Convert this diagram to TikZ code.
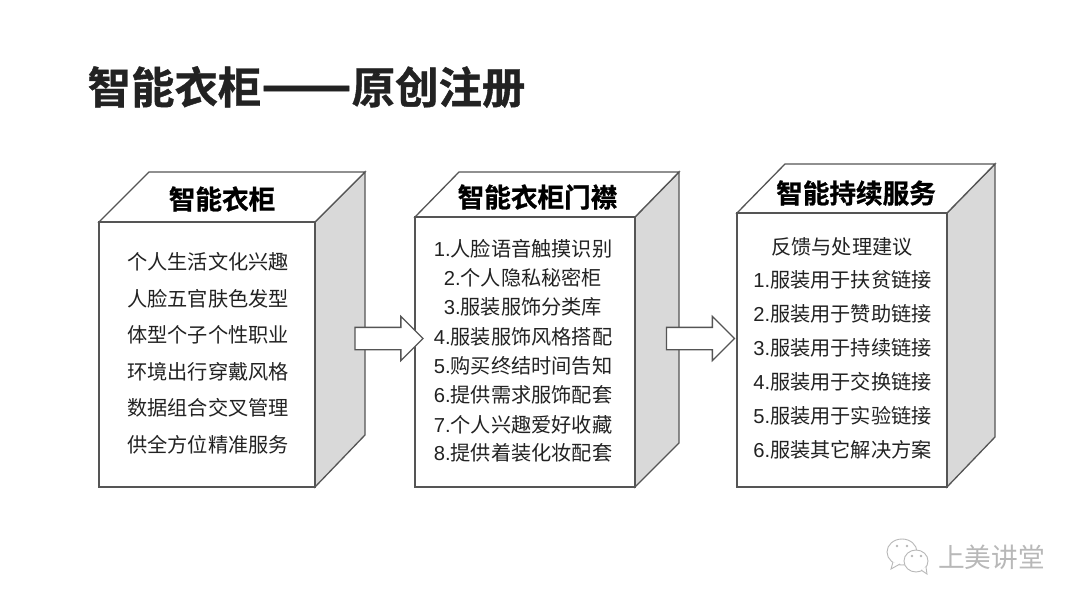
\documentclass[tikz,border=0pt]{standalone}
\usepackage{fontspec}
\usetikzlibrary{shapes.arrows}
\setmainfont{Noto Sans CJK SC}
\newfontfamily\lat{Liberation Sans}
\newfontfamily\heavy[UprightFeatures={FakeBold=0.9},BoldFont={Noto Sans CJK SC Bold},BoldFeatures={FakeBold=0.9}]{Noto Sans CJK SC}
\definecolor{edgec}{HTML}{555555}
\definecolor{sidec}{HTML}{D9D9D9}
\definecolor{inkc}{HTML}{222222}
\definecolor{wmc}{HTML}{B8B8B8}
\newcommand{\fs}[1]{\fontsize{#1pt}{#1pt}\selectfont}
\newcommand{\dg}[1]{{\lat #1}}
\tikzset{
  x=1pt,y=-1pt,
  face/.style={draw=edgec,line width=1.3pt,line join=miter},
  front/.style={face,fill=white,rectangle,inner sep=0pt,outer sep=0pt,anchor=north west},
  boxtitle/.style={inner sep=0pt,text=black,font=\fs{26.6}\heavy\bfseries},
  line/.style={inner sep=0pt,text=inkc,font=\fs{20.2},yshift=-0.7pt},
  blockarrow/.style={face,fill=white,shape=single arrow,inner xsep=0pt,inner ysep=10.5pt,outer sep=0pt,
    single arrow head extend=11pt,single arrow tip angle=90,shape border rotate=0,
    minimum height=68pt,anchor=tip},
  wm/.style={draw=wmc,line width=0.9pt,fill=white},
}
\begin{document}
\begin{tikzpicture}
\useasboundingbox (0,0) rectangle (1080,605);
\fill[white] (0,0) rectangle (1080,605);
\node[inner sep=0pt,text=inkc,font=\fs{43.4}\heavy\bfseries] (title) at (306.5,87) {智能衣柜\raisebox{-0.6pt}{\scalebox{1.225}[1.25]{——}}原创注册};

% box 1
\draw[face,fill=sidec] (315,222) -- (365,172) -- (365,435) -- (315,487) -- cycle;
\draw[face,fill=white] (99,222) -- (149,172) -- (365,172) -- (315,222) -- cycle;
\node[front,minimum width=216pt,minimum height=265pt] (f1) at (99,222) {};
\node[boxtitle] (t1) at (222,199) {智能衣柜};
\foreach \i/\y/\s in {1/261/个人生活文化兴趣,2/298/人脸五官肤色发型,3/334/体型个子个性职业,4/371/环境出行穿戴风格,5/407/数据组合交叉管理,6/444/供全方位精准服务}
  \node[line] (a\i) at (208,\y) {\s};

% box 2
\draw[face,fill=sidec] (635,217) -- (679,172) -- (679,443) -- (635,487) -- cycle;
\draw[face,fill=white] (415,217) -- (459,172) -- (679,172) -- (635,217) -- cycle;
\node[front,minimum width=220pt,minimum height=270pt] (f2) at (415,217) {};
\node[boxtitle] (t2) at (537.5,197) {智能衣柜门襟};
\foreach \i/\y/\s in {1/248/人脸语音触摸识别,4/336/服装服饰风格搭配,5/365/购买终结时间告知,6/394/提供需求服饰配套,7/424/个人兴趣爱好收藏,8/452/提供着装化妆配套}
  \node[line] (b\i) at (523,\y) {\dg{\i.}\s};
\node[line] (b2) at (523,277) {\dg{2.}个人隐私秘密柜};
\node[line] (b3) at (523,306) {\dg{3.}服装服饰分类库};

% box 3
\draw[face,fill=sidec] (947,213) -- (995,164) -- (995,437) -- (947,487) -- cycle;
\draw[face,fill=white] (737,213) -- (785,164) -- (995,164) -- (947,213) -- cycle;
\node[front,minimum width=210pt,minimum height=274pt] (f3) at (737,213) {};
\node[boxtitle] (t3) at (856,193) {智能持续服务};
\node[line] (c0) at (842,246) {反馈与处理建议};
\node[line] (c1) at (842.5,279) {\dg{1.}服装用于扶贫链接};
\node[line] (c2) at (842.5,313) {\dg{2.}服装用于赞助链接};
\node[line] (c3) at (842.5,347) {\dg{3.}服装用于持续链接};
\node[line] (c4) at (842.5,381) {\dg{4.}服装用于交换链接};
\node[line] (c5) at (842.5,415) {\dg{5.}服装用于实验链接};
\node[line] (c6) at (842.5,449) {\dg{6.}服装其它解决方案};

% arrows
\node[blockarrow] (ar1) at (423,338.5) {};
\node[blockarrow] (ar2) at (734.5,338.5) {};

% watermark
\draw[wm] (902,552) ellipse [x radius=15,y radius=13];
\draw[wm] (893,562) -- (891,569) -- (900,564);
\draw[wm] (916,561) ellipse [x radius=12,y radius=11];
\draw[wm] (921,570) -- (927,574) -- (926,567);
\fill[wmc] (897,546) circle (1.4) (907,546) circle (1.4) (912,556) circle (1.4) (921,556) circle (1.4);
\node[inner sep=0pt,text=wmc,font=\fs{26.7}] (wmt) at (991.5,557) {上美讲堂};
\end{tikzpicture}
\end{document}
